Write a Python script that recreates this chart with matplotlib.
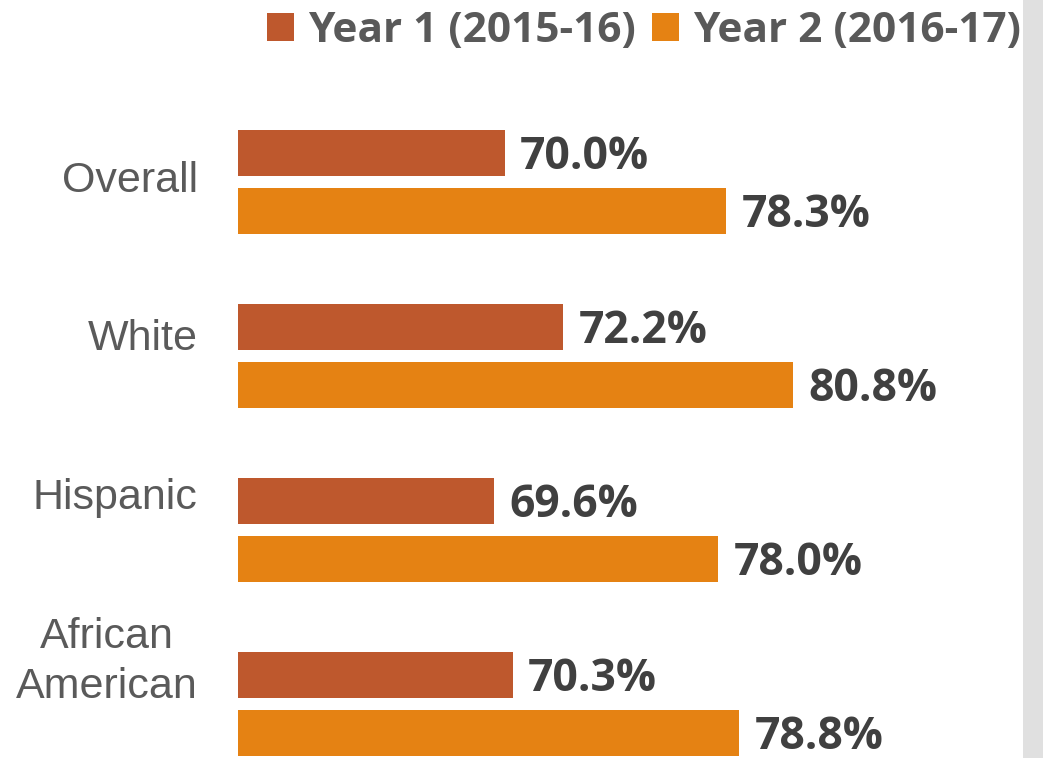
import numpy as np
import matplotlib
matplotlib.use("Agg")
import matplotlib.pyplot as plt
from matplotlib.patches import Rectangle

# dados
categorias = ["Overall", "White", "Hispanic", "African\nAmerican"]
ano1 = [70.0, 72.2, 69.6, 70.3]
ano2 = [78.3, 80.8, 78.0, 78.8]
series = ["Year 1 (2015-16)", "Year 2 (2016-17)"]
cores = ["#BE582D", "#E58213"]

W, H = 1043, 758
fig = plt.figure(figsize=(W / 100, H / 100), dpi=100)
fig.patch.set_facecolor("white")

# faixa cinza na borda direita
fig.patches.append(Rectangle((1023 / W, 0), 20 / W, 1, transform=fig.transFigure,
                             facecolor="#E0E0E0", edgecolor="none", zorder=0))

ax = fig.add_axes([238 / W, 0, 785 / W, 658 / H])
ax.set_facecolor("none")

y = np.arange(len(categorias))
dy = 29 / 174
alt = 46 / 174
b1 = ax.barh(y - dy, ano1, height=alt, left=0, color=cores[0], label=series[0])
b2 = ax.barh(y + dy, ano2, height=alt, left=0, color=cores[1], label=series[1])

ax.set_xlim(60, 60 + 785 / 26.67)
ax.set_ylim((758 - 182) / 174, (100 - 182) / 174)

# rótulos de valor
for barras, vals in [(b1, ano1), (b2, ano2)]:
    for b, v in zip(barras, vals):
        ax.annotate(f"{v:.1f}%", (v, b.get_y() + b.get_height() / 2),
                    xytext=(11, -3), textcoords="offset points",
                    va="center", ha="left", fontsize=32, fontweight="bold",
                    family="Open Sans", color="#404040")

# rótulos das categorias
ax.set_yticks((176 - 182) / 174 + y * 159 / 174)
ax.set_yticklabels(categorias, fontsize=31, family="Liberation Sans",
                   color="#5A5A5A", multialignment="center", linespacing=1.3)
ax.tick_params(axis="y", length=0, pad=29)
ax.set_xticks([])
for s in ax.spines.values():
    s.set_visible(False)

fig.legend(loc="upper left", bbox_to_anchor=(267 / W, 1 - 11 / H), ncol=2,
           frameon=False, borderpad=0, borderaxespad=0,
           handlelength=0.63, handleheight=0.63, handletextpad=0.33,
           columnspacing=0.4,
           prop={"family": "Open Sans", "weight": "bold", "size": 30.5},
           labelcolor="#595959")

fig.savefig("out.png", dpi=100)
